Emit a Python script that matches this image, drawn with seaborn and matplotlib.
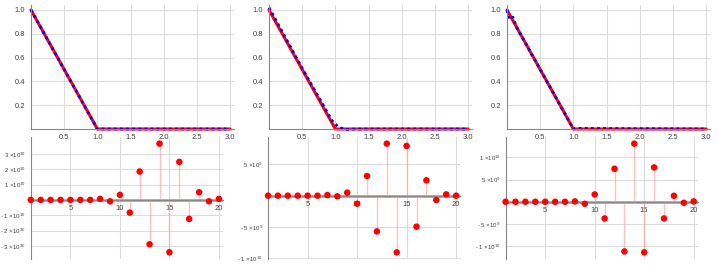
import numpy as np
import pandas as pd
import seaborn as sns
import matplotlib.pyplot as plt
from matplotlib.ticker import FixedLocator, MultipleLocator

# exact function (red) and approximations (blue, dotted)
exact_x = [0.0, 1.0, 3.0]
exact_y = [1.0, 0.0, 0.0]

approx_x = [
    [0.0, 0.5, 1.0, 3.0],
    [0.0, 0.5, 0.95, 1.0, 1.05, 1.15, 1.3, 3.0],
    [0.0, 0.04, 0.09, 0.14, 0.2, 1.0, 1.05, 3.0],
]
approx_y = [
    [1.0, 0.5, 0.0, 0.0],
    [1.02, 0.51, 0.07, 0.04, 0.015, -0.005, 0.0, 0.0],
    [1.0, 0.92, 0.94, 0.86, 0.8, 0.0, 0.005, 0.0],
]

# coefficients, index 1..20
idx = list(range(1, 21))
coef1 = [0, 0, 0, 0, 0, 0, 0, 0.07e10, -0.09e10, 0.33e10, -0.83e10, 1.85e10,
         -2.89e10, 3.67e10, -3.41e10, 2.48e10, -1.24e10, 0.5e10, -0.09e10, 0.07e10]
coef2 = [0, 0, 0, 0, 0, 0, 0.1e9, -0.1e9, 0.48e9, -1.28e9, 3.14e9, -5.7e9,
         8.3e9, -9.04e9, 7.93e9, -4.95e9, 2.45e9, -0.69e9, 0.21e9, 0.0]
coef3 = [0, 0, 0, 0, 0, 0, 0, 0.08e9, -0.45e9, 1.65e9, -3.76e9, 7.44e9,
         -11.2e9, 13.1e9, -11.4e9, 7.74e9, -3.76e9, 1.35e9, -0.23e9, 0.08e9]
coefs = [coef1, coef2, coef3]

ytick_vals = [
    [-3e10, -2e10, -1e10, 1e10, 2e10, 3e10],
    [-1e10, -5e9, 5e9],
    [-1e10, -5e9, 5e9, 1e10],
]
ytick_labels = [
    ['- 3 ×10$^{10}$', '- 2 ×10$^{10}$', '- 1 ×10$^{10}$',
     '1 ×10$^{10}$', '2 ×10$^{10}$', '3 ×10$^{10}$'],
    ['- 1 ×10$^{10}$', '- 5 ×10$^{9}$', '5 ×10$^{9}$'],
    ['- 1 ×10$^{10}$', '- 5 ×10$^{9}$', '5 ×10$^{9}$', '1 ×10$^{10}$'],
]
ylims = [(-3.85e10, 4.1e10), (-1.01e10, 0.936e10), (-1.29e10, 1.46e10)]
yminor = [0.2e10, 0.5e9, 0.1e10]

sns.set_style("white")
plt.rcParams['font.family'] = ['Liberation Sans', 'DejaVu Sans']
plt.rcParams['mathtext.fontset'] = 'custom'
plt.rcParams['mathtext.rm'] = 'Liberation Sans'
plt.rcParams['mathtext.it'] = 'Liberation Sans:italic'
fig = plt.figure(figsize=(7.19, 2.66), dpi=100)
W, H = 719, 266
grid_c = '#dcdcdc'
axis_c = '#888888'
text_c = '#444444'

def px_axes(x0, x1, ytop, ybot):
    return fig.add_axes([x0 / W, 1 - ybot / H, (x1 - x0) / W, (ybot - ytop) / H])

def style_axes(ax):
    for s in ['top', 'right']:
        ax.spines[s].set_visible(False)
    for s in ['left', 'bottom']:
        ax.spines[s].set_color(axis_c)
        ax.spines[s].set_linewidth(0.8)
    ax.spines['bottom'].set_position(('data', 0))
    ax.tick_params(axis='both', which='both', colors=axis_c, labelcolor=text_c,
                   labelsize=5.5, length=2.5, width=0.6, pad=1.5)
    ax.tick_params(which='minor', length=1.5)
    ax.set_facecolor('none')
    ax.set_xlabel('')
    ax.set_ylabel('')

top_left = [31, 269, 507]
bot_left = [30.8, 268.0, 505.6]

for i in range(3):
    # top panel
    x0 = top_left[i]
    ax = px_axes(x0, x0 + 202.5, 5, 129)
    ax.set_xlim(0, 3.05)
    ax.set_ylim(0, 1.042)
    ax.set_xticks([0.5, 1.0, 1.5, 2.0, 2.5, 3.0])
    ax.set_yticks([0.2, 0.4, 0.6, 0.8, 1.0])
    ax.xaxis.set_minor_locator(MultipleLocator(0.1))
    ax.yaxis.set_minor_locator(MultipleLocator(0.05))
    ax.grid(True, which='major', color=grid_c, linewidth=0.8)
    ax.set_axisbelow(True)
    dfe = pd.DataFrame({'x': exact_x, 'y': exact_y})
    dfa = pd.DataFrame({'x': approx_x[i], 'y': approx_y[i]})
    sns.lineplot(data=dfe, x='x', y='y', ax=ax, color='red', linewidth=2.2,
                 estimator=None, sort=False, clip_on=False)
    sns.lineplot(data=dfa, x='x', y='y', ax=ax, color='blue', linewidth=2.0,
                 estimator=None, sort=False, linestyle=(0, (1, 1.2)), clip_on=False)
    style_axes(ax)
    ax.tick_params(axis='x', pad=1.0)

    # bottom panel
    b0 = bot_left[i]
    lo, hi = ylims[i]
    ax2 = px_axes(b0, b0 + 19.4 * 9.9, 137, 259)
    ax2.set_xlim(1, 20.4)
    ax2.set_ylim(lo, hi)
    ax2.set_xticks([5, 10, 15, 20])
    ax2.xaxis.set_minor_locator(MultipleLocator(1))
    ax2.yaxis.set_minor_locator(MultipleLocator(yminor[i]))
    ax2.set_yticks(ytick_vals[i])
    ax2.set_yticklabels(ytick_labels[i])
    ax2.grid(True, which='major', color=grid_c, linewidth=0.8)
    ax2.set_axisbelow(True)
    ax2.axhline(0, color='#999999', linewidth=1.8, zorder=1.5)
    ax2.vlines(idx, 0, coefs[i], color=(1, 0.6, 0.6), alpha=0.6, linewidth=1.0, zorder=2)
    dfc = pd.DataFrame({'n': idx, 'c': coefs[i]})
    sns.scatterplot(data=dfc, x='n', y='c', ax=ax2, color='red', s=22,
                    edgecolor='none', zorder=4, clip_on=False)
    style_axes(ax2)
    ax2.tick_params(axis='y', labelsize=4.4, pad=1.0)

fig.savefig('out.png', dpi=100)
